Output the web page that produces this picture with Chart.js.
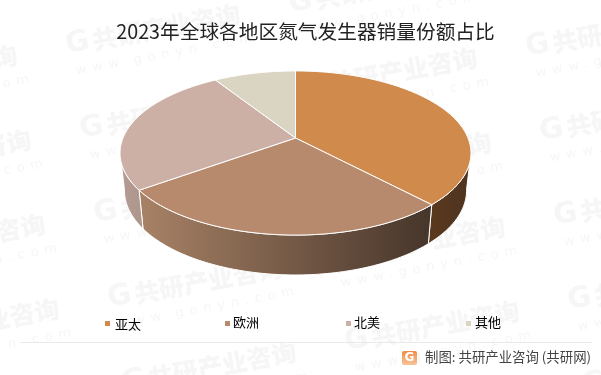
<!DOCTYPE html>
<html>
<head>
<meta charset="utf-8">
<style>
  html, body { margin: 0; padding: 0; background: #fff; }
  #wrap { position: relative; width: 601px; height: 375px; }
</style>
<script src="https://cdn.jsdelivr.net/npm/chart.js@4"></script>
</head>
<body>
<div id="wrap"><canvas id="pie-chart" width="601" height="375"></canvas></div>
<script>
const chartTitle = '2023年全球各地区氮气发生器销量份额占比';
const categories = ['亚太', '欧洲', '北美', '其他'];
const shares = [38, 27, 26, 9];
const sliceColors = ['#CF8A4C', '#B88A6D', '#CDB0A5', '#DAD4C2'];
const sourceText = '制图: 共研产业咨询 (共研网)';

const cjkFont = '"Noto Sans CJK SC", "Noto Sans", sans-serif';

// side wall colours, left to right [start, end] per slice
const wallColors = [['#4E3320', '#5A3A1E'], ['#A88266', '#46352A'], ['#B59D93', '#AD958B'], null];

// tilted disc: circle seen in perspective, so the apex sits above the ellipse middle
const tilt = { cx: 295.5, cy: 138, rx: 172.5, ry: 79.3, k: -0.183 };
const wall = { scaleX: 0.975, scaleY: 1.03, top: 175 };

function topPoint(a) {
    const u = Math.cos(a), v = Math.sin(a), d = 1 + tilt.k * v;
    return { x: tilt.cx + tilt.rx * u / d, y: tilt.cy + tilt.ry * v / d };
}

function bottomPoint(a) {
    const p = topPoint(a);
    return {
        x: tilt.cx + (p.x - tilt.cx) * wall.scaleX,
        y: wall.top + (p.y - tilt.cy) * wall.scaleY
    };
}

function arcPoints(fn, a0, a1) {
    const pts = [];
    const n = Math.max(2, Math.ceil(Math.abs(a1 - a0) / 0.02));
    for (let i = 0; i <= n; i++) pts.push(fn(a0 + (a1 - a0) * i / n));
    return pts;
}

function tracePath(ctx, pts) {
    ctx.beginPath();
    pts.forEach((p, i) => i ? ctx.lineTo(p.x, p.y) : ctx.moveTo(p.x, p.y));
    ctx.closePath();
}

function drawWatermark(ctx, x, y) {
    ctx.save();
    ctx.translate(x, y);
    ctx.rotate(-10.5 * Math.PI / 180);
    ctx.fillStyle = '#F6F6F6';
    ctx.textBaseline = 'middle';
    ctx.textAlign = 'left';
    ctx.font = '900 29px "DejaVu Sans"';
    ctx.fillText('G', 0, 0);
    ctx.font = '900 25px ' + cjkFont;
    ctx.fillText('共研产业咨询', 27, 0);
    ctx.font = '13px "DejaVu Sans"';
    ctx.letterSpacing = '6px';
    ctx.fillText('www.gonyn.com', 5, 27);
    ctx.restore();
}

const piePlugin = {
    id: 'pie3d',
    beforeDraw(chart) {
        const ctx = chart.ctx;
        // faint repeated site mark behind everything
        for (let i = -2; i < 5; i++) {
            for (let j = -2; j < 7; j++) {
                const x = 80 + 223 * i + 14 * j;
                const y = 130 - 41 * i + 84.5 * j;
                if (x > -190 && x < 610 && y > -20 && y < 420) drawWatermark(ctx, x, y);
            }
        }
    },
    beforeDatasetsDraw(chart) {
        const ctx = chart.ctx;
        const arcs = chart.getDatasetMeta(0).data;
        const frontStart = 10 * Math.PI / 180;
        const frontEnd = 170 * Math.PI / 180;

        // walls first
        arcs.forEach((arc, i) => {
            if (!wallColors[i]) return;
            const a0 = Math.max(arc.startAngle, frontStart);
            const a1 = Math.min(arc.endAngle, frontEnd);
            if (a1 <= a0) return;
            const top = arcPoints(topPoint, a0, a1);
            const bottom = arcPoints(bottomPoint, a0, a1);
            const xs = top.concat(bottom).map(p => p.x);
            const grad = ctx.createLinearGradient(Math.min(...xs), 0, Math.max(...xs), 0);
            const ends = i === 0 ? wallColors[i].slice().reverse() : wallColors[i];
            grad.addColorStop(0, ends[0]);
            grad.addColorStop(1, ends[1]);
            tracePath(ctx, top.concat(bottom.reverse()));
            ctx.fillStyle = grad;
            ctx.fill();
            ctx.strokeStyle = arc.options.borderColor;
            ctx.lineWidth = 1;
            ctx.stroke();
        });

        // top faces
        arcs.forEach(arc => {
            const pts = arcPoints(topPoint, arc.startAngle, arc.endAngle);
            pts.push({ x: tilt.cx, y: tilt.cy });
            tracePath(ctx, pts);
            ctx.fillStyle = arc.options.backgroundColor;
            ctx.fill();
            ctx.strokeStyle = arc.options.borderColor;
            ctx.lineWidth = arc.options.borderWidth;
            ctx.stroke();
        });
        return false;
    },
    afterDraw(chart) {
        const ctx = chart.ctx;
        ctx.save();

        // legend
        const markerX = [105, 225, 346, 466];
        const labelX = [115, 233, 354, 475];
        const labelY = [324, 322, 322.5, 322.5];
        ctx.font = '13px ' + cjkFont;
        ctx.textBaseline = 'middle';
        ctx.textAlign = 'left';
        categories.forEach((name, i) => {
            ctx.fillStyle = sliceColors[i];
            ctx.fillRect(markerX[i], 321, 5, 5);
            ctx.fillStyle = '#000';
            ctx.fillText(name, labelX[i], labelY[i]);
        });

        // footer rule and source line
        ctx.strokeStyle = '#E9E9E9';
        ctx.lineWidth = 1;
        ctx.beginPath();
        ctx.moveTo(20, 342.5);
        ctx.lineTo(592, 342.5);
        ctx.stroke();

        const logo = ctx.createLinearGradient(0, 351, 0, 365);
        logo.addColorStop(0, '#EF8A45');
        logo.addColorStop(1, '#F9C39A');
        ctx.fillStyle = logo;
        ctx.beginPath();
        ctx.roundRect(402, 351, 15, 14, 2);
        ctx.fill();
        ctx.fillStyle = '#fff';
        ctx.font = '900 12px "DejaVu Sans"';
        ctx.textAlign = 'center';
        ctx.fillText('G', 409.5, 358);

        ctx.fillStyle = '#444';
        ctx.font = '13.4px ' + cjkFont;
        ctx.textAlign = 'left';
        ctx.fillText(sourceText, 425, 357);
        ctx.restore();
    }
};

new Chart(document.querySelector('#pie-chart').getContext('2d'), {
    type: 'pie',
    data: {
        labels: categories,
        datasets: [{
            data: shares,
            backgroundColor: sliceColors,
            borderColor: '#fff',
            borderWidth: 1
        }]
    },
    options: {
        responsive: false,
        animation: false,
        layout: { padding: { left: 10 } },
        plugins: {
            legend: { display: false },
            tooltip: { enabled: false },
            title: {
                display: true,
                text: chartTitle,
                color: '#222',
                font: { family: cjkFont, size: 19.7, weight: 'normal' },
                padding: { top: 20, bottom: 10 }
            }
        }
    },
    plugins: [piePlugin]
});
</script>
</body>
</html>
